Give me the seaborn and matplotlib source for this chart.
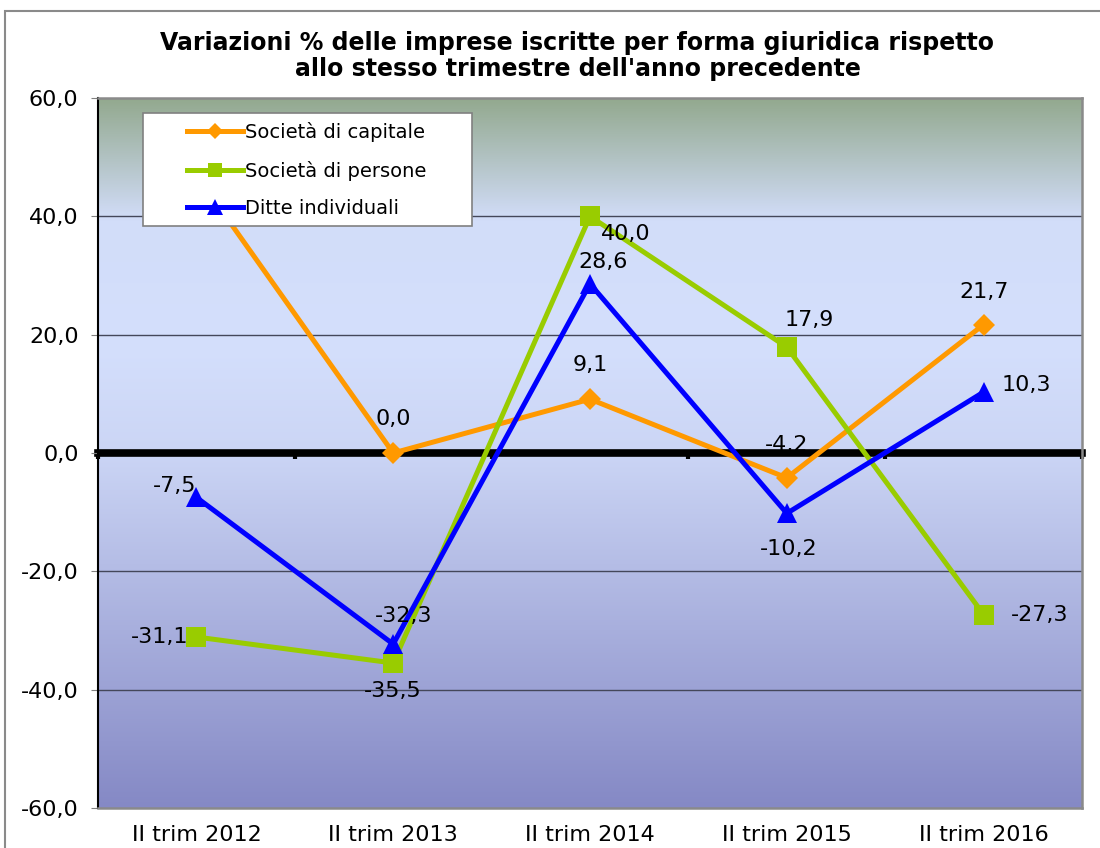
import numpy as np
import pandas as pd
import matplotlib
matplotlib.use("Agg")
import matplotlib.pyplot as plt
from matplotlib.colors import LinearSegmentedColormap
from matplotlib.patches import Rectangle
import seaborn as sns

periods = ["II trim 2012", "II trim 2013", "II trim 2014", "II trim 2015", "II trim 2016"]
capitale = [47.0, 0.0, 9.1, -4.2, 21.7]
persone = [-31.1, -35.5, 40.0, 17.9, -27.3]
individuali = [-7.5, -32.3, 28.6, -10.2, 10.3]
names = ["Società di capitale", "Società di persone", "Ditte individuali"]
yticks = [-60, -40, -20, 0, 20, 40, 60]
title = "Variazioni % delle imprese iscritte per forma giuridica rispetto\nallo stesso trimestre dell'anno precedente"

# where excel put the data labels, in pixels from the point
offs_cap = [(0, 34), (0, 34), (0, 34), (0, 33), (0, 33)]
offs_per = [(-37, 0), (0, -28), (36, -18), (22, 27), (56, 0)]
offs_ind = [(-22, 11), (10, 28), (13, 22), (2, -36), (43, 7)]

fmt = lambda v: f"{v:.1f}".replace(".", ",")

df = pd.DataFrame({"x": range(len(periods)), names[0]: capitale,
                   names[1]: persone, names[2]: individuali})

fig = plt.figure(figsize=(11, 8.48), dpi=100)
ax = fig.add_axes([98 / 1100, 1 - 808 / 848, 984 / 1100, 710 / 848])

# background gradient of the plot area
bg = LinearSegmentedColormap.from_list("bg", [
    (0.0, "#8589c5"), (0.5, "#cbd5f5"), (0.65, "#d4dffc"),
    (0.83, "#d2ddf9"), (1.0, "#93a98f")])
ax.imshow(np.linspace(0, 1, 256).reshape(-1, 1), cmap=bg, origin="lower",
          extent=(-0.5, 4.5, -60, 60), aspect="auto", zorder=0)

styles = [("#ff9900", "D", 11), ("#99cc00", "s", 14), ("#0000ff", "^", 15)]
for name, (col, mk, ms) in zip(names, styles):
    sns.lineplot(data=df, x="x", y=name, ax=ax, color=col, lw=3.6, marker=mk,
                 markersize=ms, markeredgewidth=0, label=name, zorder=3)

for vals, offs in [(capitale, offs_cap), (persone, offs_per), (individuali, offs_ind)]:
    for i, (v, o) in enumerate(zip(vals, offs)):
        ax.annotate(fmt(v), (i, v), xytext=o, textcoords="offset pixels",
                    ha="center", va="center", fontsize=16, zorder=4)

ax.set_xlim(-0.5, 4.5)
ax.set_ylim(-60, 60)
ax.set_yticks(yticks)
ax.set_yticklabels([fmt(v) for v in yticks], fontsize=16)
ax.set_xticks(range(len(periods)))
ax.set_xticklabels(periods, fontsize=16)
ax.tick_params(axis="x", length=0, pad=12)
ax.tick_params(axis="y", length=5, color="#808080", pad=9)
ax.set_xlabel("")
ax.set_ylabel("")
for y in yticks[1:-1]:
    if y != 0:
        ax.axhline(y, color="#44475a", lw=1, zorder=0.5)

for s in ["top", "right", "bottom"]:
    ax.spines[s].set_color("#8a8a8a")
    ax.spines[s].set_linewidth(1.8)
ax.spines["left"].set_color("black")
ax.spines["left"].set_linewidth(1.5)

# thick zero axis with category boundary ticks
sec = ax.secondary_xaxis(0.5)
sec.set_alignment("bottom")
sec.set_xticks(np.arange(-0.5, 5, 1))
sec.tick_params(direction="out", length=4, width=3, labelbottom=False, color="black")
sec.spines["bottom"].set_linewidth(5.5)
sec.spines["bottom"].set_color("black")

# legend box
ax.add_patch(Rectangle((0.0457, 0.820), 0.334, 0.159, transform=ax.transAxes,
                       facecolor="white", edgecolor="#808080", lw=1.2, zorder=6))
leg = ax.legend(loc="upper left", bbox_to_anchor=(0.0904, 0.966), frameon=False,
                fontsize=14, handlelength=2.9, handletextpad=0.1, labelspacing=0.95,
                borderpad=0, borderaxespad=0)
for h, ms in zip(leg.legend_handles, [8, 10, 11]):
    h.set_markersize(ms)
leg.set_zorder(7)

fig.text(0.525, 1 - 56 / 848, title, ha="center", va="center", fontsize=17,
         fontweight="bold", linespacing=1.1)

fig.patches.append(Rectangle((5 / 1100, -0.1), 1.2, 1.1 - 11 / 848, transform=fig.transFigure,
                             facecolor="none", edgecolor="#8a8a8a", lw=1.5))

fig.savefig("out.png", dpi=100)
